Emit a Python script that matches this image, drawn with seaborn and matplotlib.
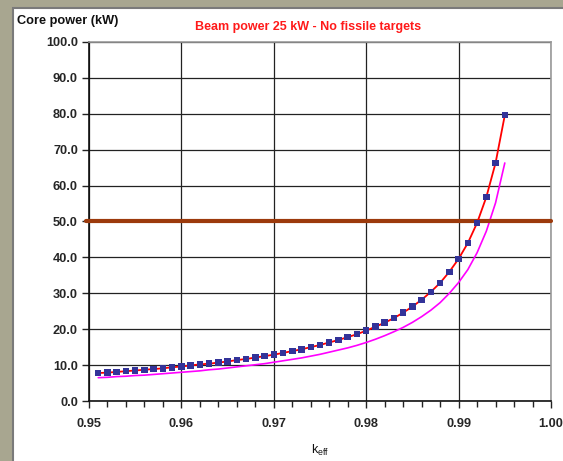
import numpy as np
import pandas as pd
import matplotlib
matplotlib.use("Agg")
import matplotlib.pyplot as plt
from matplotlib.patches import Rectangle
from matplotlib.ticker import MultipleLocator, FormatStrFormatter
import seaborn as sns

keff = [0.951, 0.952, 0.953, 0.954, 0.955, 0.956, 0.957, 0.958, 0.959, 0.960,
        0.961, 0.962, 0.963, 0.964, 0.965, 0.966, 0.967, 0.968, 0.969, 0.970,
        0.971, 0.972, 0.973, 0.974, 0.975, 0.976, 0.977, 0.978, 0.979, 0.980,
        0.981, 0.982, 0.983, 0.984, 0.985, 0.986, 0.987, 0.988, 0.989, 0.990,
        0.991, 0.992, 0.993, 0.994, 0.995]
core_power = [7.8, 7.9, 8.1, 8.3, 8.5, 8.7, 8.9, 9.1, 9.4, 9.6,
              9.9, 10.2, 10.4, 10.7, 11.0, 11.4, 11.7, 12.1, 12.5, 12.9,
              13.4, 13.9, 14.4, 15.0, 15.6, 16.3, 17.0, 17.8, 18.6, 19.6,
              20.7, 21.8, 23.1, 24.6, 26.3, 28.2, 30.4, 32.9, 36.0, 39.6,
              44.0, 49.6, 56.8, 66.3, 79.6]
core_power_low = [6.5, 6.6, 6.8, 6.9, 7.1, 7.2, 7.4, 7.6, 7.8, 8.0,
                  8.2, 8.4, 8.7, 8.9, 9.2, 9.5, 9.8, 10.1, 10.4, 10.8,
                  11.2, 11.6, 12.0, 12.5, 13.0, 13.6, 14.2, 14.8, 15.5, 16.3,
                  17.2, 18.2, 19.3, 20.5, 21.9, 23.5, 25.3, 27.4, 30.0, 33.0,
                  36.6, 41.3, 47.3, 55.2, 66.3]
limit_x = [0.9497, 1.0]
limit_y = [50.0, 50.0]

title = "Beam power 25 kW - No fissile targets"
ylabel = "Core power (kW)"

df = pd.DataFrame({"keff": keff, "P": core_power, "Plow": core_power_low})
df_lim = pd.DataFrame({"x": limit_x, "y": limit_y})

sns.set_theme(style="white")
plt.rcParams['font.family'] = ['Liberation Sans', 'DejaVu Sans']

fig = plt.figure(figsize=(5.63, 4.61), dpi=100)
fig.patch.set_facecolor("#a8a690")
W, H = 563, 461
fig.patches.append(Rectangle((13 / W, -0.01), 1 - 13 / W + 0.01, 1 - 8 / H + 0.01,
                             transform=fig.transFigure, facecolor="white",
                             edgecolor="#7a7a7a", linewidth=1.5, zorder=-5))

ax = fig.add_axes([89 / W, 1 - 401 / H, (551 - 89) / W, (401 - 42) / H])
ax.set_zorder(2)
ax.set_facecolor("white")

sns.lineplot(data=df, x="keff", y="Plow", ax=ax, color="#ff00ff", lw=1.2, zorder=3)
sns.lineplot(data=df_lim, x="x", y="y", ax=ax, color="#9c3a0c", lw=3, zorder=4, clip_on=False)
sns.lineplot(data=df, x="keff", y="P", ax=ax, color="#ff0000", lw=1.3, zorder=5)
sns.scatterplot(data=df, x="keff", y="P", ax=ax, marker="s", color="#333399",
                s=22, edgecolor="none", zorder=6)

ax.set_xlim(0.95, 1.0)
ax.set_ylim(0, 100)
ax.xaxis.set_major_locator(MultipleLocator(0.01))
ax.xaxis.set_minor_locator(MultipleLocator(0.002))
ax.yaxis.set_major_locator(MultipleLocator(10))
ax.xaxis.set_major_formatter(FormatStrFormatter("%.2f"))
ax.yaxis.set_major_formatter(FormatStrFormatter("%.1f"))
ax.grid(True, which="major", color="#222222", lw=0.9)
ax.tick_params(axis="both", which="major", direction="out", length=5, width=1,
               color="#222222", labelsize=9.2, bottom=True, left=True)
ax.tick_params(axis="x", which="major", pad=7)
ax.tick_params(axis="y", which="major", pad=3)
ax.tick_params(axis="x", which="minor", direction="out", length=4, width=1,
               color="#222222", bottom=True)
for lab in ax.get_xticklabels() + ax.get_yticklabels():
    lab.set_fontweight("bold")
for s in ["left", "bottom"]:
    ax.spines[s].set_color("#111111")
    ax.spines[s].set_linewidth(1.2)
for s in ["top", "right"]:
    ax.spines[s].set_color("#999999")
    ax.spines[s].set_linewidth(1.2)
ax.set_xlabel("")
ax.set_ylabel("")

fig.text(17 / W, 1 - 21 / H, ylabel, fontsize=9.2, fontweight="bold", color="#111111",
         ha="left", va="center")
fig.text(308 / W, 1 - 27 / H, title, fontsize=9, fontweight="bold", color="#ff1a1a",
         ha="center", va="center")
fig.text(311 / W, 1 - 450 / H, "k$_{\\mathregular{eff}}$", fontsize=9, color="#111111",
         ha="left", va="center")

fig.savefig("out.png", dpi=100, facecolor=fig.get_facecolor())
